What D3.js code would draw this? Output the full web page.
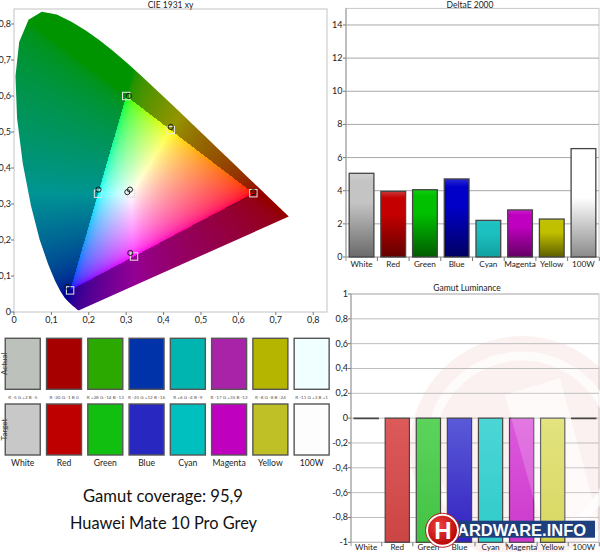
<!DOCTYPE html>
<html><head><meta charset="utf-8">
<script src="https://cdn.jsdelivr.net/npm/d3@7"></script>
<style>body{margin:0;background:#fff}svg{display:block}</style>
</head><body><svg id="c" width="600" height="552"></svg>
<script>
// ---------- DATA ----------
const categories = ["White","Red","Green","Blue","Cyan","Magenta","Yellow","100W"];
const deltaE = [5.05, 3.96, 4.06, 4.71, 2.21, 2.84, 2.29, 6.54];
const gamutLum = [-0.004, -1, -1, -1, -1, -1, -1, -0.004];
const deltaTicks = [0, 2, 4, 6, 8, 10, 12, 14];
const lumTicks = [-1, -0.8, -0.6, -0.4, -0.2, 0, 0.2, 0.4, 0.6, 0.8, 1];
const cieTicks = [0, 0.1, 0.2, 0.3, 0.4, 0.5, 0.6, 0.7, 0.8];
const targetX = [0.3127, 0.64, 0.30, 0.15, 0.2247, 0.3209, 0.4193, 0.3127];
const targetY = [0.3290, 0.33, 0.60, 0.06, 0.3287, 0.1542, 0.5053, 0.3290];
const measX = [0.303, 0.640, 0.307, 0.143, 0.226, 0.311, 0.419, 0.310];
const measY = [0.333, 0.333, 0.600, 0.070, 0.340, 0.164, 0.514, 0.340];
const actualColors = ["#bcc1bb","#a70000","#2ca900","#0032aa","#00b5b0","#a823a8","#b5b500","#f0ffff"];
const targetColors = ["#c8c8c8","#bf0000","#11bf11","#2828c0","#00bfbf","#bf00bf","#bfbf26","#fdfdfd"];
const diffLabels = ["R -5 G +2 B -5","R -20 G -1 B 0","R +28 G -14 B -13","R -35 G +12 B -16","R +6 G -4 B -9","R -17 G +35 B -12","R -8 G -8 B -24","R -11 G +3 B +1"];
const locusX = [0.1741,0.1740,0.1738,0.1736,0.1733,0.1730,0.1726,0.1721,0.1714,0.1703,0.1689,0.1669,0.1644,0.1611,0.1566,0.1510,0.1440,0.1355,0.1241,0.1096,0.0913,0.0687,0.0454,0.0235,0.0082,0.0039,0.0139,0.0389,0.0743,0.1142,0.1547,0.1929,0.2296,0.2658,0.3016,0.3373,0.3731,0.4087,0.4441,0.4788,0.5125,0.5448,0.5752,0.6029,0.6270,0.6482,0.6658,0.6801,0.6915,0.7006,0.7079,0.7140,0.7190,0.7230,0.7260,0.7283,0.7300,0.7311,0.7320,0.7334,0.7347];
const locusY = [0.0050,0.0050,0.0049,0.0049,0.0048,0.0048,0.0048,0.0048,0.0051,0.0058,0.0069,0.0086,0.0109,0.0138,0.0177,0.0227,0.0297,0.0399,0.0578,0.0868,0.1327,0.2007,0.2950,0.4127,0.5384,0.6548,0.7502,0.8120,0.8338,0.8262,0.8059,0.7816,0.7543,0.7243,0.6923,0.6589,0.6245,0.5896,0.5547,0.5202,0.4866,0.4544,0.4242,0.3965,0.3725,0.3514,0.3340,0.3197,0.3083,0.2993,0.2920,0.2859,0.2809,0.2770,0.2740,0.2717,0.2700,0.2689,0.2680,0.2666,0.2653];
const coverageText = "Gamut coverage: 95,9";
const deviceText = "Huawei Mate 10 Pro Grey";

// ---------- SETUP ----------
const svg = d3.select("#c");
const FONT = "Lato, 'Open Sans', sans-serif";
const fmt = v => String(+v.toFixed(2)).replace(".", ",");
const defs = svg.append("defs");

// ---------- CIE ----------
const xs = d3.scaleLinear().domain([0, 0.8369]).range([14, 327]);
const ys = d3.scaleLinear().domain([0, 0.8417]).range([312, 9]);
const [px0, px1] = xs.range(), [py1, py0] = ys.range();
const cw = px1 - px0, ch = py1 - py0;

svg.append("rect").attr("x", px0).attr("y", py0).attr("width", cw).attr("height", ch)
  .attr("fill", "#fff").attr("stroke", "#c4c4c4");

const locus = locusX.map((x, i) => [x, locusY[i]]);
const locusPath = d3.line().x(d => xs(d[0])).y(d => ys(d[1]))(locus) + "Z";
defs.append("clipPath").attr("id", "hs").append("path").attr("d", locusPath);

const tri = [1, 2, 3].map(i => [targetX[i], targetY[i]]);
function inTri(x, y) {
  const s = (a, b) => (x - b[0]) * (a[1] - b[1]) - (a[0] - b[0]) * (y - b[1]);
  const d1 = s(tri[0], tri[1]), d2 = s(tri[1], tri[2]), d3 = s(tri[2], tri[0]);
  const neg = d1 < 0 || d2 < 0 || d3 < 0, pos = d1 > 0 || d2 > 0 || d3 > 0;
  return !(neg && pos);
}
const gam = c => c <= 0.0031308 ? 12.92 * c : 1.055 * Math.pow(c, 1 / 2.4) - 0.055;
const cv = document.createElement("canvas");
cv.width = cw; cv.height = ch;
const ctx = cv.getContext("2d");
const img = ctx.createImageData(cw, ch);
for (let j = 0; j < ch; j++) {
  for (let i = 0; i < cw; i++) {
    const x = xs.invert(px0 + i + 0.5), y = ys.invert(py0 + j + 0.5);
    const k = (j * cw + i) * 4;
    if (y <= 0.002) { img.data[k + 3] = 0; continue; }
    const X = x / y, Y = 1, Z = (1 - x - y) / y;
    let r = 3.2406 * X - 1.5372 * Y - 0.4986 * Z;
    let g = -0.9689 * X + 1.8758 * Y + 0.0415 * Z;
    let b = 0.0557 * X - 0.2040 * Y + 1.0570 * Z;
    r = Math.max(0, r); g = Math.max(0, g); b = Math.max(0, b);
    const m = Math.max(r, g, b) || 1;
    const f = inTri(x, y) ? 1 : 0.58;
    img.data[k] = 255 * gam(r / m) * f;
    img.data[k + 1] = 255 * gam(g / m) * f;
    img.data[k + 2] = 255 * gam(b / m) * f;
    img.data[k + 3] = 255;
  }
}
ctx.putImageData(img, 0, 0);
svg.append("image").attr("href", cv.toDataURL()).attr("x", px0).attr("y", py0)
  .attr("width", cw).attr("height", ch).attr("clip-path", "url(#hs)");

const cieAx = svg.append("g").attr("font-family", FONT).attr("font-size", 9).attr("fill", "#222");
cieTicks.forEach(t => {
  cieAx.append("line").attr("x1", xs(t)).attr("x2", xs(t)).attr("y1", py1).attr("y2", py1 + 3).attr("stroke", "#777");
  cieAx.append("text").attr("x", xs(t)).attr("y", py1 + 11).attr("text-anchor", "middle").text(fmt(t));
  cieAx.append("line").attr("x1", px0 - 3).attr("x2", px0).attr("y1", ys(t)).attr("y2", ys(t)).attr("stroke", "#777");
  cieAx.append("text").attr("x", px0 - 3).attr("y", ys(t) + 3).attr("text-anchor", "end").text(fmt(t));
});
svg.append("text").attr("x", (px0 + px1) / 2).attr("y", 8).attr("text-anchor", "middle")
  .attr("font-family", FONT).attr("font-size", 8.5).attr("fill", "#222").text("CIE 1931 xy");

svg.append("g").selectAll("rect").data(categories).join("rect")
  .attr("x", (d, i) => xs(targetX[i]) - 3.7).attr("y", (d, i) => ys(targetY[i]) - 3.7)
  .attr("width", 7.4).attr("height", 7.4).attr("fill", "none").attr("stroke", "#e6e6e6").attr("stroke-width", 1);
svg.append("g").selectAll("circle").data(categories).join("circle")
  .attr("cx", (d, i) => xs(measX[i])).attr("cy", (d, i) => ys(measY[i])).attr("r", 2.6)
  .attr("fill", "none").attr("stroke", "#111").attr("stroke-width", 0.9);

// ---------- SWATCHES ----------
const sx = d3.scaleBand().domain(categories).range([2.2, 332.2]).paddingInner(0.152).paddingOuter(0.074);
const sw = svg.append("g");
sw.selectAll(".act").data(categories).join("rect")
  .attr("x", d => sx(d)).attr("y", 338.3).attr("width", sx.bandwidth()).attr("height", 51)
  .attr("fill", (d, i) => actualColors[i]).attr("stroke", "#555").attr("stroke-width", 1.4);
sw.selectAll(".tgt").data(categories).join("rect")
  .attr("x", d => sx(d)).attr("y", 404).attr("width", sx.bandwidth()).attr("height", 51)
  .attr("fill", (d, i) => targetColors[i]).attr("stroke", "#555").attr("stroke-width", 1.4);
sw.selectAll(".dl").data(categories).join("text")
  .attr("x", d => sx(d) + sx.bandwidth() / 2).attr("y", 398.5).attr("text-anchor", "middle")
  .attr("font-family", FONT).attr("font-size", 4.6).attr("fill", "#555").text((d, i) => diffLabels[i]);
sw.selectAll(".cl").data(categories).join("text")
  .attr("x", d => sx(d) + sx.bandwidth() / 2).attr("y", 466).attr("text-anchor", "middle")
  .attr("font-family", FONT).attr("font-size", 8.6).attr("fill", "#222").text(d => d);
[["Actual", 363.8], ["Target", 429.5]].forEach(([t, y]) => {
  sw.append("text").attr("transform", `translate(6.8,${y}) rotate(-90)`).attr("text-anchor", "middle")
    .attr("font-family", FONT).attr("font-size", 8).attr("fill", "#444").text(t);
});

// ---------- BOTTOM TEXT ----------
svg.append("text").attr("x", 163).attr("y", 502).attr("text-anchor", "middle")
  .attr("font-family", FONT).attr("font-size", 17).attr("fill", "#111")
  .attr("textLength", 160).attr("lengthAdjust", "spacingAndGlyphs").text(coverageText);
svg.append("text").attr("x", 163.5).attr("y", 529).attr("text-anchor", "middle")
  .attr("font-family", FONT).attr("font-size", 17).attr("fill", "#111")
  .attr("textLength", 187).attr("lengthAdjust", "spacingAndGlyphs").text(deviceText);

// ---------- GRADIENTS ----------
const deGrad = [["#d0d0d0","#c4c4c4","#6a6a6a"],["#cc3a3a","#c40000","#640000"],["#10cc10","#00c000","#005c00"],["#2a2ad4","#0000c8","#000062"],["#2cc4c4","#1dc0c0","#10a0a0"],["#cc20cc","#c000c0","#640064"],["#c4c410","#c0c000","#5e5e00"],["#ffffff","#ffffff","#8a8a8a"]];
const lumGrad = [["#777","#777"],["#dd5a5a","#cc4545"],["#5cd45c","#42c242"],["#5a5ad8","#3322c0"],["#4cd6d6","#30caca"],["#dd5add","#cc38cc"],["#dddd64","#cfcf40"],["#777","#777"]];
categories.forEach((c, i) => {
  const g = defs.append("linearGradient").attr("id", "de" + i).attr("x1", 0).attr("x2", 0).attr("y1", 0).attr("y2", 1);
  g.append("stop").attr("offset", "0").attr("stop-color", deGrad[i][0]);
  g.append("stop").attr("offset", "0.1").attr("stop-color", deGrad[i][1]);
  g.append("stop").attr("offset", i === 7 ? "0.45" : "0.35").attr("stop-color", deGrad[i][1]);
  g.append("stop").attr("offset", "1").attr("stop-color", deGrad[i][2]);
  const h = defs.append("linearGradient").attr("id", "lu" + i).attr("x1", 0).attr("x2", 0).attr("y1", 0).attr("y2", 1);
  h.append("stop").attr("offset", "0").attr("stop-color", lumGrad[i][0]);
  h.append("stop").attr("offset", "1").attr("stop-color", lumGrad[i][1]);
});

// ---------- DELTA E ----------
const dx = d3.scaleBand().domain(categories).range([346, 599]).paddingInner(0.22).paddingOuter(0.1);
const dy = d3.scaleLinear().domain([0, 15]).range([257, 8.4]);
const dg = svg.append("g");
dg.append("rect").attr("x", 346).attr("y", dy(15)).attr("width", 253).attr("height", dy(0) - dy(15))
  .attr("fill", "#fff").attr("stroke", "#c8c8c8");
deltaTicks.forEach(t => {
  dg.append("line").attr("x1", 346).attr("x2", 599).attr("y1", dy(t)).attr("y2", dy(t)).attr("stroke", "#a8a8a8");
  dg.append("line").attr("x1", 343).attr("x2", 346).attr("y1", dy(t)).attr("y2", dy(t)).attr("stroke", "#777");
  dg.append("text").attr("x", 342.5).attr("y", dy(t) + 3).attr("text-anchor", "end")
    .attr("font-family", FONT).attr("font-size", 9).attr("fill", "#222").text(t);
});
dg.append("line").attr("x1", 346).attr("x2", 346).attr("y1", dy(15)).attr("y2", dy(0) + 4).attr("stroke", "#999");
dg.selectAll(".bar").data(categories).join("rect")
  .attr("x", d => dx(d)).attr("width", dx.bandwidth())
  .attr("y", (d, i) => dy(deltaE[i])).attr("height", (d, i) => dy(0) - dy(deltaE[i]))
  .attr("fill", (d, i) => `url(#de${i})`).attr("stroke", "#454545").attr("stroke-width", 1.3);
categories.forEach((c, i) => {
  const bx = dx(c) + dx.bandwidth() + dx.step() * dx.paddingInner() / 2;
  dg.append("line").attr("x1", bx).attr("x2", bx).attr("y1", dy(0)).attr("y2", dy(0) + 4).attr("stroke", "#777");
  dg.append("text").attr("x", dx(c) + dx.bandwidth() / 2).attr("y", 266.5).attr("text-anchor", "middle")
    .attr("font-family", FONT).attr("font-size", 8.2).attr("fill", "#222").text(c);
});
dg.append("text").attr("x", 470).attr("y", 8).attr("text-anchor", "middle")
  .attr("font-family", FONT).attr("font-size", 8.5).attr("fill", "#222").text("DeltaE 2000");

// ---------- GAMUT LUMINANCE ----------
const lx = d3.scaleBand().domain(categories).range([351, 599]).paddingInner(0.22).paddingOuter(0.1);
const ly = d3.scaleLinear().domain([-1, 1]).range([542.3, 294]);
const lg = svg.append("g");
lg.append("rect").attr("x", 351).attr("y", ly(1)).attr("width", 248).attr("height", ly(-1) - ly(1))
  .attr("fill", "#fff").attr("stroke", "#c8c8c8");

const wm = lg.append("g");
wm.append("circle").attr("cx", 522).attr("cy", 448).attr("r", 112).attr("fill", "#e06060").attr("opacity", 0.09);
wm.append("circle").attr("cx", 522).attr("cy", 448).attr("r", 92).attr("fill", "none").attr("stroke", "#fff").attr("stroke-width", 9).attr("opacity", 0.7);
wm.append("path").attr("d", "M505,395 L560,378 L598,520 L545,540 Z").attr("fill", "#fff").attr("opacity", 0.55);

lumTicks.forEach(t => {
  lg.append("line").attr("x1", 351).attr("x2", 599).attr("y1", ly(t)).attr("y2", ly(t)).attr("stroke", "#bdbdbd");
  lg.append("line").attr("x1", 348).attr("x2", 351).attr("y1", ly(t)).attr("y2", ly(t)).attr("stroke", "#777");
  lg.append("text").attr("x", 348).attr("y", ly(t) + 3).attr("text-anchor", "end")
    .attr("font-family", FONT).attr("font-size", 9).attr("fill", "#222").text(fmt(t));
});
lg.append("line").attr("x1", 351).attr("x2", 351).attr("y1", ly(1)).attr("y2", ly(-1) + 4).attr("stroke", "#999");

lg.selectAll(".bar").data(categories).join("rect")
  .attr("x", d => lx(d)).attr("width", lx.bandwidth())
  .attr("y", (d, i) => ly(Math.max(0, gamutLum[i]))).attr("height", (d, i) => Math.abs(ly(gamutLum[i]) - ly(0)))
  .attr("fill", (d, i) => `url(#lu${i})`).attr("stroke", "#454545").attr("stroke-width", 1.2);
lg.append("path").attr("d", "M505,395 L560,378 L598,520 L545,540 Z").attr("fill", "#fff").attr("opacity", 0.18);
categories.forEach((c, i) => {
  const bx = lx(c) + lx.bandwidth() + lx.step() * lx.paddingInner() / 2;
  lg.append("line").attr("x1", bx).attr("x2", bx).attr("y1", ly(-1)).attr("y2", ly(-1) + 4).attr("stroke", "#777");
  lg.append("text").attr("x", lx(c) + lx.bandwidth() / 2).attr("y", 550).attr("text-anchor", "middle")
    .attr("font-family", FONT).attr("font-size", 8.2).attr("fill", "#222").text(c);
});
lg.append("text").attr("x", 467).attr("y", 291).attr("text-anchor", "middle")
  .attr("font-family", FONT).attr("font-size", 8.5).attr("fill", "#222").text("Gamut Luminance");

// logo
const lo = svg.append("g");
lo.append("rect").attr("x", 430).attr("y", 520.7).attr("width", 165).attr("height", 17).attr("fill", "#1d3f7e");
lo.append("text").attr("x", 457).attr("y", 535.5).attr("font-family", "'Liberation Sans', Arial, sans-serif")
  .attr("font-weight", "bold").attr("font-size", 16).attr("fill", "#fff").attr("textLength", 129)
  .attr("lengthAdjust", "spacingAndGlyphs").text("ARDWARE.INFO");
const rg = defs.append("radialGradient").attr("id", "lr").attr("cx", 0.4).attr("cy", 0.35).attr("r", 0.7);
rg.append("stop").attr("offset", 0).attr("stop-color", "#f04040");
rg.append("stop").attr("offset", 1).attr("stop-color", "#b00000");
lo.append("circle").attr("cx", 442.5).attr("cy", 530.3).attr("r", 15.5).attr("fill", "url(#lr)").attr("stroke", "#fff").attr("stroke-width", 2);
lo.append("circle").attr("cx", 442.5).attr("cy", 530.3).attr("r", 17).attr("fill", "none").attr("stroke", "#c02020").attr("stroke-width", 1);
lo.append("text").attr("x", 443).attr("y", 538.5).attr("text-anchor", "middle").attr("font-family", "'Liberation Sans', Arial, sans-serif")
  .attr("font-weight", "bold").attr("font-size", 24).attr("fill", "#fff").text("H");
</script></body></html>
